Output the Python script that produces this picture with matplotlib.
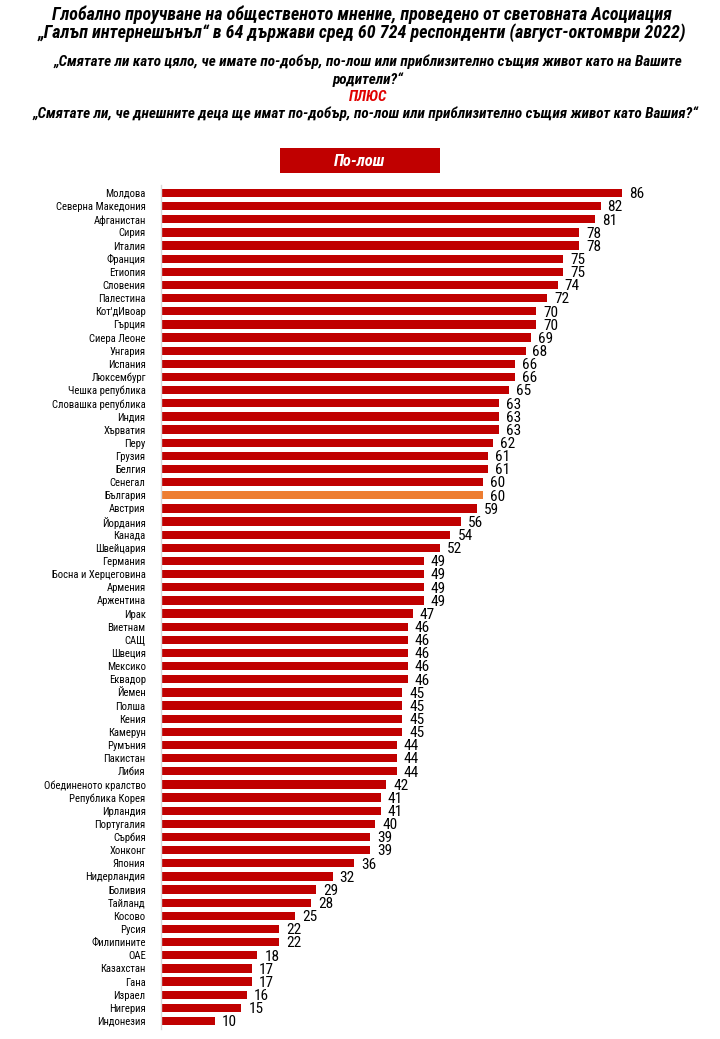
import matplotlib
matplotlib.use("Agg")
import matplotlib.pyplot as plt
from matplotlib.patches import Rectangle

plt.rcParams['font.family'] = ['Roboto Condensed', 'DejaVu Sans']

countries = ["Молдова", "Северна Македония", "Афганистан", "Сирия", "Италия", "Франция", "Етиопия",
             "Словения", "Палестина", "Кот'дИвоар", "Гърция", "Сиера Леоне", "Унгария", "Испания",
             "Люксембург", "Чешка република", "Словашка република", "Индия", "Хърватия", "Перу",
             "Грузия", "Белгия", "Сенегал", "България", "Австрия", "Йордания", "Канада", "Швейцария",
             "Германия", "Босна и Херцеговина", "Армения", "Аржентина", "Ирак", "Виетнам", "САЩ",
             "Швеция", "Мексико", "Еквадор", "Йемен", "Полша", "Кения", "Камерун", "Румъния",
             "Пакистан", "Либия", "Обединеното кралство", "Република Корея", "Ирландия", "Португалия",
             "Сърбия", "Хонконг", "Япония", "Нидерландия", "Боливия", "Тайланд", "Косово", "Русия",
             "Филипините", "ОАЕ", "Казахстан", "Гана", "Израел", "Нигерия", "Индонезия"]
values = [86, 82, 81, 78, 78, 75, 75, 74, 72, 70, 70, 69, 68, 66, 66, 65, 63, 63, 63, 62,
          61, 61, 60, 60, 59, 56, 54, 52, 49, 49, 49, 49, 47, 46, 46, 46, 46, 46, 45, 45,
          45, 45, 44, 44, 44, 42, 41, 41, 40, 39, 39, 36, 32, 29, 28, 25, 22, 22, 18, 17,
          17, 16, 15, 10]
highlight = "България"

W, H = 720, 1039
fig = plt.figure(figsize=(W / 100, H / 100), dpi=100)

def fx(px): return px / W
def fy(py): return 1 - py / H

red = "#C00000"
orange = "#ED7D31"

tkw = dict(ha="center", va="center", fontweight="bold", style="italic")
fig.text(fx(362), fy(15), "Глобално проучване на общественото мнение, проведено от световната Асоциация",
         fontsize=13.0, **tkw)
fig.text(fx(362), fy(33), "„Галъп интернешънъл“ в 64 държави сред 60 724 респонденти (август-октомври 2022)",
         fontsize=13.0, **tkw)
fig.text(fx(368), fy(62), "„Смятате ли като цяло, че имате по-добър, по-лош или приблизително същия живот като на Вашите",
         fontsize=10.9, **tkw)
fig.text(fx(368), fy(80), "родители?“", fontsize=10.9, **tkw)
fig.text(fx(368), fy(97), "ПЛЮС", fontsize=10.9, color="#E00000", **tkw)
fig.text(fx(366), fy(114), "„Смятате ли, че днешните деца ще имат по-добър, по-лош или приблизително същия живот като Вашия?“",
         fontsize=10.9, **tkw)

# Header box
fig.patches.append(Rectangle((fx(280), fy(173)), fx(440) - fx(280), (173 - 148) / H,
                             transform=fig.transFigure, facecolor=red, edgecolor="none"))
fig.text(fx(360), fy(161), "По-лош", fontsize=12, color="white", **tkw)

# Axes
n = len(values)
step = (1021 - 193) / (n - 1)
top_px = 193 - 0.6 * step
bot_px = 1021 + 0.6 * step
left_px = 161
right_px = left_px + 100 * (622 - 161) / 86
ax = fig.add_axes([fx(left_px), fy(bot_px), fx(right_px) - fx(left_px), (bot_px - top_px) / H])
ys = list(range(n))
colors = [orange if c == highlight else red for c in countries]
ax.barh(ys, values, height=0.62, color=colors)
ax.set_xlim(0, 100)
ax.set_ylim(n - 1 + 0.6, -0.6)
ax.set_yticks(ys)
ax.set_yticklabels(countries, fontsize=7.7)
ax.tick_params(axis="y", length=0, pad=11)
ax.set_xticks([])
for s in ["top", "right", "bottom"]:
    ax.spines[s].set_visible(False)
ax.spines["left"].set_color("#D9D9D9")
ax.spines["left"].set_linewidth(1)
for y, v in zip(ys, values):
    ax.text(v + 1.3, y + 0.1, str(v), va="center", ha="left", fontsize=11)

fig.savefig("out.png", dpi=100, facecolor="white")
